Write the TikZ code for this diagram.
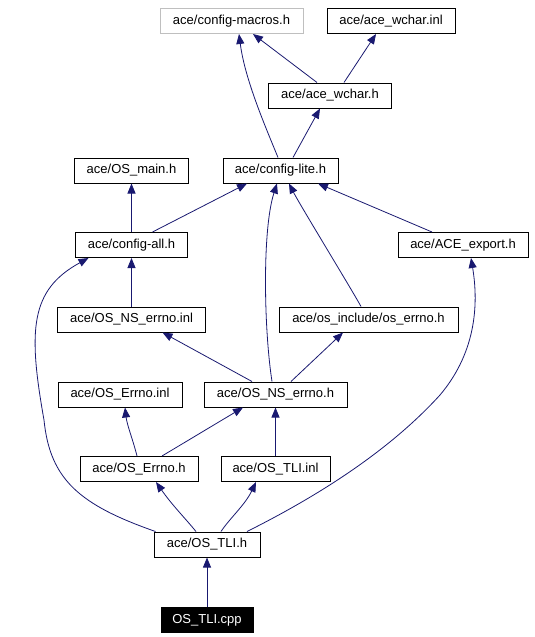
\documentclass[tikz,border=0pt]{standalone}
\usepackage{fontspec}
\setmainfont{Liberation Sans}
\usepackage{tikz}
\usetikzlibrary{arrows.meta}
\definecolor{edgeblue}{RGB}{25,25,112}
\definecolor{lightframe}{RGB}{191,191,191}
\tikzset{
  box/.style={draw=black, fill=white, line width=1pt, inner sep=0pt, minimum height=25pt,
    font=\fontsize{13}{15}\selectfont},
  greybox/.style={box, draw=lightframe},
  mainbox/.style={box, fill=black, text=white},
  edge/.style={edgeblue, line width=0.8pt, -{Triangle[length=10pt,width=8pt]}}
}

\begin{document}
\begin{tikzpicture}[x=1pt, y=-1pt]
  \useasboundingbox (0,0) rectangle (535,637);
  \node[greybox, minimum width=143pt] (cmacros) at (231.5,21) {ace/config-macros.h};
  \node[box, minimum width=128pt] (wcharinl) at (391,21) {ace/ace\_wchar.inl};
  \node[box, minimum width=123pt] (wcharh) at (330,95.5) {ace/ace\_wchar.h};
  \node[box, minimum width=114pt] (osmain) at (131.5,170.5) {ace/OS\_main.h};
  \node[box, minimum width=115pt] (clite) at (280.5,170.5) {ace/config-lite.h};
  \node[box, minimum width=112pt] (call) at (131.5,245) {ace/config-all.h};
  \node[box, minimum width=130pt] (aceexport) at (463,245) {ace/ACE\_export.h};
  \node[box, minimum width=148pt] (nserrnoinl) at (131.5,319.5) {ace/OS\_NS\_errno.inl};
  \node[box, minimum width=179pt] (oserrno) at (368.5,319.5) {ace/os\_include/os\_errno.h};
  \node[box, minimum width=124pt] (errnoinl) at (120,394.5) {ace/OS\_Errno.inl};
  \node[box, minimum width=143pt] (nserrnoh) at (275.5,394.5) {ace/OS\_NS\_errno.h};
  \node[box, minimum width=118pt] (errnoh) at (139,469) {ace/OS\_Errno.h};
  \node[box, minimum width=109pt] (tliinl) at (275.5,469) {ace/OS\_TLI.inl};
  \node[box, minimum width=106pt] (tlih) at (207,544.5) {ace/OS\_TLI.h};
  \node[mainbox, minimum width=92pt] (tlicpp) at (207,620) {OS\_TLI.cpp};
  \draw[edge] ([xshift=-13pt]wcharh.north) -- ([xshift=21.5pt]cmacros.south);
  \draw[edge] ([xshift=14pt]wcharh.north) -- ([xshift=-15pt]wcharinl.south);
  \draw[edge] ([xshift=-2.5pt]clite.north) .. controls (266,128) and (245,80) .. ([xshift=7.5pt]cmacros.south);
  \draw[edge] ([xshift=12.5pt]clite.north) -- ([xshift=-10pt]wcharh.south);
  \draw[edge] (call.north) -- (osmain.south);
  \draw[edge] ([xshift=21pt]call.north) -- ([xshift=-33.5pt]clite.south);
  \draw[edge] ([xshift=-31pt]aceexport.north) -- ([xshift=37.5pt]clite.south);
  \draw[edge] (nserrnoinl.north) -- (call.south);
  \draw[edge] ([xshift=-7.5pt]oserrno.north) .. controls (352,290) and (300,205) .. ([xshift=8.5pt]clite.south);
  \draw[edge] ([xshift=-3.5pt]nserrnoh.north) .. controls (264,330) and (262,230) .. ([xshift=-3.5pt]clite.south);
  \draw[edge] ([xshift=-23.5pt]nserrnoh.north) -- ([xshift=31pt]nserrnoinl.south);
  \draw[edge] ([xshift=15.5pt]nserrnoh.north) -- ([xshift=-25.5pt]oserrno.south);
  \draw[edge] ([xshift=-2pt]errnoh.north) .. controls (133,440) and (127,425) .. ([xshift=5pt]errnoinl.south);
  \draw[edge] ([xshift=23pt]errnoh.north) -- ([xshift=-32.5pt]nserrnoh.south);
  \draw[edge] (tliinl.north) -- (nserrnoh.south);
  \draw[edge] ([xshift=-11pt]tlih.north) .. controls (185,518) and (172,505) .. ([xshift=17pt]errnoh.south);
  \draw[edge] ([xshift=14pt]tlih.north) .. controls (230,518) and (245,505) .. ([xshift=-19.5pt]tliinl.south);
  \draw[edge] ([xshift=2pt]tlih.north west) .. controls (80,505) and (50,480) .. (44,420)
    .. controls (28,330) and (30,290) .. ([xshift=-43pt]call.south);
  \draw[edge] ([xshift=40pt]tlih.north) .. controls (320,495) and (390,450) .. (440,395)
    .. controls (478,350) and (478,300) .. ([xshift=8pt]aceexport.south);
  \draw[edge] (tlicpp.north) -- (tlih.south);
\end{tikzpicture}
\end{document}
